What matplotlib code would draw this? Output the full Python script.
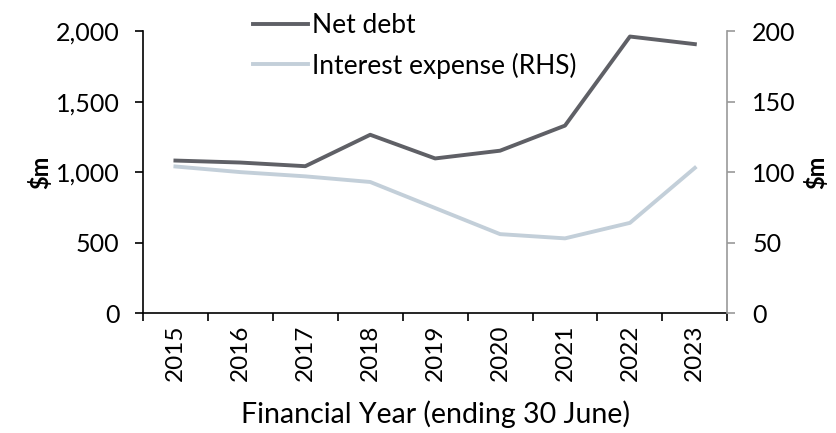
import matplotlib
matplotlib.use("Agg")
import matplotlib.pyplot as plt
from matplotlib.ticker import FuncFormatter

plt.rcParams["font.family"] = ["Lato", "DejaVu Sans"]

years = ["2015", "2016", "2017", "2018", "2019", "2020", "2021", "2022", "2023"]
net_debt = [1082, 1068, 1042, 1265, 1097, 1152, 1330, 1962, 1908]
interest_expense = [104, 100, 97, 93, 74.5, 56, 53, 64, 103]

dark = "#5f6066"
light = "#c3cfd9"

fig = plt.figure(figsize=(8.36, 4.33), dpi=100)
ax1 = fig.add_axes([0.171, 0.277, 0.699, 0.651])
ax2 = ax1.twinx()

x = list(range(len(years)))
l1, = ax1.plot(x, net_debt, color=dark, lw=2.8, label="Net debt")
l2, = ax2.plot(x, interest_expense, color=light, lw=2.8, label="Interest expense (RHS)")

ax1.set_xlim(-0.5, len(years) - 0.5)
ax1.set_ylim(0, 2000)
ax2.set_ylim(0, 200)
ax1.set_yticks([0, 500, 1000, 1500, 2000])
ax2.set_yticks([0, 50, 100, 150, 200])
ax1.yaxis.set_major_formatter(FuncFormatter(lambda v, pos: f"{v:,.0f}"))

ax1.set_xticks(x)
ax1.set_xticklabels(years, rotation=90, fontsize=17.5)
ax1.set_xticks([i - 0.5 for i in range(len(years) + 1)], minor=True)
ax1.tick_params(axis="x", which="major", length=0, pad=8)
ax1.tick_params(axis="x", which="minor", length=6, width=1.2, color="black")
ax1.tick_params(axis="y", labelsize=18, length=6, width=1.2, pad=11)
ax2.tick_params(axis="y", labelsize=18, length=6, width=1.2, pad=12, color="#999999")

for ax in (ax1, ax2):
    ax.spines["top"].set_visible(False)
ax1.spines["right"].set_visible(False)
ax2.spines["left"].set_visible(False)
ax2.spines["bottom"].set_visible(False)
ax2.spines["right"].set_color("#999999")
ax1.spines["left"].set_linewidth(1.2)
ax1.spines["bottom"].set_linewidth(1.2)
ax2.spines["right"].set_linewidth(1.2)

ax1.set_ylabel("$m", fontsize=17, fontweight="bold", labelpad=2)
ax2.set_ylabel("$m", fontsize=17, fontweight="bold", labelpad=6)
ax1.set_xlabel("Financial Year (ending 30 June)", fontsize=20.5, labelpad=14)

fig.legend(handles=[l1, l2], loc="upper left", bbox_to_anchor=(0.274, 1.025),
           frameon=False, fontsize=19, handlelength=2.1, handletextpad=0.15,
           labelspacing=0.55)

fig.savefig("out.png", dpi=100)
